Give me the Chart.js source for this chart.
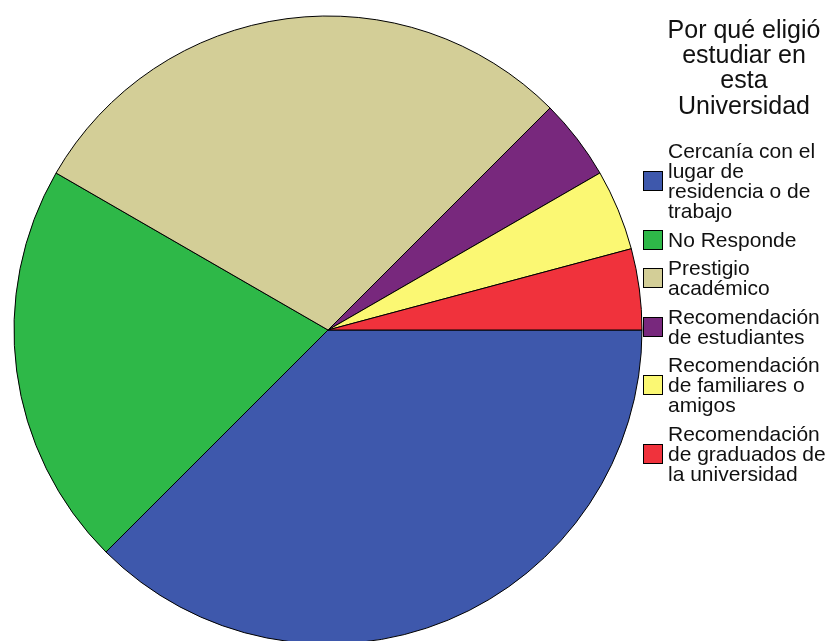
<!DOCTYPE html>
<html>
<head>
<meta charset="utf-8">
<script src="https://cdn.jsdelivr.net/npm/chart.js@4/dist/chart.umd.min.js"></script>
<style>
  html, body { margin: 0; padding: 0; background: #fff; overflow: hidden; width: 837px; height: 641px; }
  #wrap { position: absolute; left: 0; top: 0; width: 656px; height: 660px; }
  #title { position: absolute; left: 634px; top: 17px; width: 220px; text-align: center;
    font-family: "Liberation Sans", Arial, sans-serif; font-size: 25px; line-height: 25.2px; color: #111; }
  #legend { position: absolute; left: 643px; top: 141px; font-family: "Liberation Sans", Arial, sans-serif;
    font-size: 21px; line-height: 20px; color: #111; }
  .item { display: flex; align-items: center; margin-bottom: 8.5px; }
  .box { width: 20px; height: 20px; box-sizing: border-box; border: 1px solid #000; margin-right: 5px; flex: none; }
  .txt { white-space: nowrap; }
</style>
</head>
<body>
<div id="wrap"><canvas id="c"></canvas></div>
<div id="title"></div>
<div id="legend"></div>
<script>
const titleLines = ['Por qué eligió', 'estudiar en', 'esta', 'Universidad'];
const categories = [
  ['Cercanía con el', 'lugar de', 'residencia o de', 'trabajo'],
  ['No Responde'],
  ['Prestigio', 'académico'],
  ['Recomendación', 'de estudiantes'],
  ['Recomendación', 'de familiares o', 'amigos'],
  ['Recomendación', 'de graduados de', 'la universidad']
];
const counts = [18, 10, 14, 2, 2, 2];
const colors = ['#3e58ac', '#2eb848', '#d3ce97', '#78287d', '#fbf873', '#f0323c'];

const chart = new Chart(document.getElementById('c'), {
  type: 'pie',
  data: {
    labels: categories,
    datasets: [{
      data: counts,
      backgroundColor: colors,
      borderColor: '#000',
      borderWidth: 1
    }]
  },
  options: {
    responsive: true,
    maintainAspectRatio: false,
    animation: false,
    rotation: 90,
    radius: 314,
    layout: { padding: 0 },
    plugins: { legend: { display: false }, tooltip: { enabled: false }, title: { display: false } }
  }
});

document.getElementById('title').innerHTML = titleLines.join('<br>');
const legendEl = document.getElementById('legend');
chart.data.labels.forEach((lab, i) => {
  const item = document.createElement('div');
  item.className = 'item';
  const box = document.createElement('div');
  box.className = 'box';
  box.style.background = chart.data.datasets[0].backgroundColor[i];
  const txt = document.createElement('div');
  txt.className = 'txt';
  txt.innerHTML = lab.join('<br>');
  item.appendChild(box);
  item.appendChild(txt);
  legendEl.appendChild(item);
});
</script>
</body>
</html>
